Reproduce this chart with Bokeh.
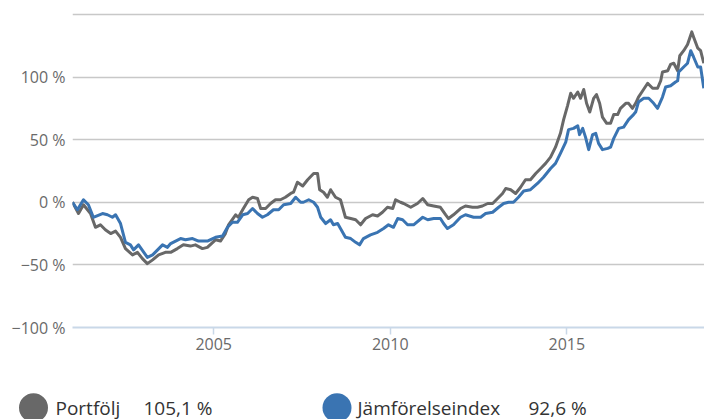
from bokeh.plotting import figure
from bokeh.layouts import column, row
from bokeh.models import Range1d, FixedTicker
from bokeh.core.properties import value
from bokeh.embed import file_html
from bokeh.resources import INLINE

# ---- data -------------------------------------------------------------
series_names = ["Portfölj", "Jämförelseindex"]
series_totals = ["105,1 %", "92,6 %"]

portfolj_years = [
    2001.00, 2001.17, 2001.31, 2001.51, 2001.65, 2001.79, 2001.93, 2002.08, 2002.22, 2002.36,
    2002.50, 2002.70, 2002.84, 2002.98, 2003.12, 2003.27, 2003.44, 2003.63, 2003.78, 2003.97,
    2004.14, 2004.34, 2004.48, 2004.68, 2004.82, 2005.05, 2005.19, 2005.33, 2005.42, 2005.62,
    2005.70, 2005.84, 2005.99, 2006.10, 2006.24, 2006.33, 2006.47, 2006.61, 2006.75, 2006.89,
    2007.03, 2007.18, 2007.26, 2007.37, 2007.52, 2007.66, 2007.83, 2007.94, 2008.00, 2008.11,
    2008.22, 2008.31, 2008.45, 2008.59, 2008.73, 2008.88, 2009.02, 2009.16, 2009.30, 2009.50,
    2009.64, 2009.78, 2009.92, 2010.07, 2010.15, 2010.29, 2010.38, 2010.58, 2010.77, 2010.92,
    2011.06, 2011.23, 2011.42, 2011.57, 2011.65, 2011.79, 2011.99, 2012.13, 2012.33, 2012.47,
    2012.61, 2012.76, 2012.90, 2013.04, 2013.18, 2013.27, 2013.41, 2013.55, 2013.69, 2013.83,
    2013.97, 2014.12, 2014.26, 2014.40, 2014.54, 2014.68, 2014.82, 2014.91, 2015.02, 2015.11,
    2015.19, 2015.31, 2015.39, 2015.48, 2015.56, 2015.65, 2015.76, 2015.84, 2015.93, 2016.01,
    2016.13, 2016.24, 2016.33, 2016.44, 2016.52, 2016.67, 2016.75, 2016.86, 2016.95, 2017.03,
    2017.15, 2017.29, 2017.43, 2017.57, 2017.66, 2017.71, 2017.86, 2017.94, 2018.03, 2018.14,
    2018.20, 2018.31, 2018.42, 2018.54, 2018.59, 2018.71, 2018.79, 2018.88,
]
portfolj = [
    0, -9, -2, -9, -20, -18, -22, -25, -23, -28,
    -37, -42, -40, -45, -49, -46, -42, -40, -40, -37,
    -34, -35, -34, -37, -36, -30, -31, -25, -18, -10,
    -12, -5, 2, 4, 3, -5, -5, -1, 2, 2,
    4, 7, 8, 16, 13, 18, 23, 23, 10, 8,
    4, 10, 4, 2, -12, -13, -14, -18, -13, -10,
    -11, -8, -4, -5, 2, 0, -1, -4, -1, 3,
    -2, -3, -4, -10, -13, -10, -5, -3, -4, -4,
    -3, -1, -1, 3, 7, 11, 10, 7, 12, 18,
    18, 23, 27, 31, 36, 44, 55, 66, 77, 87,
    83, 88, 83, 90, 79, 72, 83, 86, 79, 68,
    63, 63, 70, 70, 75, 79, 79, 75, 79, 84,
    89, 95, 91, 91, 97, 104, 105, 110, 111, 105,
    117, 121, 126, 136, 132, 123, 121, 111,
]

index_years = [
    2001.00, 2001.14, 2001.31, 2001.45, 2001.59, 2001.85, 2001.99, 2002.13, 2002.22, 2002.36,
    2002.50, 2002.64, 2002.73, 2002.87, 2003.12, 2003.27, 2003.55, 2003.69, 2003.78, 2004.06,
    2004.20, 2004.40, 2004.57, 2004.82, 2005.05, 2005.25, 2005.39, 2005.53, 2005.67, 2005.82,
    2005.96, 2006.10, 2006.24, 2006.38, 2006.52, 2006.69, 2006.84, 2006.98, 2007.18, 2007.32,
    2007.46, 2007.54, 2007.69, 2007.83, 2007.94, 2008.03, 2008.17, 2008.31, 2008.39, 2008.51,
    2008.59, 2008.73, 2008.88, 2009.02, 2009.13, 2009.24, 2009.44, 2009.64, 2009.81, 2009.95,
    2010.09, 2010.21, 2010.35, 2010.49, 2010.66, 2010.92, 2011.06, 2011.23, 2011.42, 2011.51,
    2011.62, 2011.79, 2011.99, 2012.13, 2012.36, 2012.56, 2012.70, 2012.90, 2013.07, 2013.21,
    2013.35, 2013.49, 2013.63, 2013.78, 2013.97, 2014.17, 2014.34, 2014.54, 2014.68, 2014.82,
    2014.97, 2015.05, 2015.19, 2015.31, 2015.36, 2015.45, 2015.53, 2015.62, 2015.73, 2015.82,
    2015.90, 2016.01, 2016.16, 2016.24, 2016.33, 2016.47, 2016.61, 2016.75, 2016.89, 2016.95,
    2017.03, 2017.18, 2017.32, 2017.46, 2017.57, 2017.71, 2017.80, 2017.94, 2018.08, 2018.14,
    2018.17, 2018.31, 2018.42, 2018.51, 2018.59, 2018.71, 2018.79, 2018.88,
]
index_vals = [
    0, -6, 2, -2, -12, -9, -10, -12, -10, -17,
    -32, -34, -38, -34, -44, -42, -34, -36, -33, -29,
    -30, -29, -31, -31, -28, -27, -20, -16, -16, -10,
    -9, -5, -9, -12, -10, -6, -6, -2, -1, 4,
    0, 0, 2, 0, -4, -12, -17, -14, -18, -17,
    -21, -28, -29, -32, -34, -29, -26, -24, -21, -18,
    -20, -13, -14, -18, -18, -12, -14, -13, -13, -17,
    -21, -18, -12, -10, -12, -12, -9, -8, -4, -1,
    0, 0, 4, 9, 10, 15, 20, 27, 31, 39,
    48, 58, 59, 61, 54, 59, 52, 42, 54, 55,
    47, 42, 43, 44, 51, 59, 60, 66, 70, 72,
    80, 83, 83, 79, 75, 84, 92, 93, 96, 97,
    104, 108, 111, 121, 116, 108, 108, 91,
]

x_ticks = [2005, 2010, 2015]
y_ticks = [-100, -50, 0, 50, 100, 150]
y_tick_labels = {-100: "\u2212100 %", -50: "\u221250 %", 0: "0 %", 50: "50 %", 100: "100 %", 150: ""}

GRAY = "#686868"
BLUE = "#3a74b2"
FONT = "Open Sans"

# ---- main chart ---------------------------------------------------------
p = figure(width=704, height=357, output_backend="svg", toolbar_location=None,
           x_range=Range1d(2001.0, 2018.9), y_range=Range1d(-100, 151.5),
           min_border_left=72, min_border_right=0, min_border_top=12, min_border_bottom=30)
p.outline_line_color = None
p.background_fill_color = "white"

p.line(portfolj_years, portfolj, line_color=GRAY, line_width=3, line_join="round")
p.line(index_years, index_vals, line_color=BLUE, line_width=3, line_join="round")

p.xgrid.visible = False
p.ygrid.ticker = FixedTicker(ticks=[t for t in y_ticks if t != -100])
p.ygrid.grid_line_color = "#c8c8c8"
p.ygrid.grid_line_width = 1.5

p.yaxis.ticker = FixedTicker(ticks=y_ticks)
p.yaxis.major_label_overrides = y_tick_labels
p.yaxis.axis_line_color = None
p.yaxis.major_tick_line_color = None
p.yaxis.major_tick_out = 0
p.yaxis.major_tick_in = 0
p.yaxis.minor_tick_line_color = None
p.yaxis.minor_tick_out = 0
p.yaxis.major_label_standoff = 7
p.yaxis.major_label_text_font = FONT
p.yaxis.major_label_text_font_size = "16px"
p.yaxis.major_label_text_color = "#6a6a6a"

p.xaxis.ticker = FixedTicker(ticks=x_ticks)
p.xaxis.major_label_overrides = {t: str(t) for t in x_ticks}
p.xaxis.axis_line_color = "#c9d8e8"
p.xaxis.axis_line_width = 2
p.xaxis.major_tick_line_color = "#c9d8e8"
p.xaxis.major_tick_line_width = 1.5
p.xaxis.major_tick_out = 7
p.xaxis.major_tick_in = 0
p.xaxis.minor_tick_line_color = None
p.xaxis.major_label_standoff = 3
p.xaxis.major_label_text_font = FONT
p.xaxis.major_label_text_font_size = "16px"
p.xaxis.major_label_text_color = "#6a6a6a"

# ---- legend strip ------------------------------------------------------
lg = figure(width=704, height=62, output_backend="svg", toolbar_location=None,
            x_range=Range1d(0, 704), y_range=Range1d(62, 0),
            min_border=0, min_border_left=0, min_border_right=0,
            min_border_top=0, min_border_bottom=0)
lg.axis.visible = False
lg.grid.visible = False
lg.outline_line_color = None

lg.scatter([33, 336.5], [50.2, 50.2], size=29, color=[GRAY, BLUE], line_color=None)
lg.text([55, 357], [50, 50], text=series_names, text_font=value(FONT),
        text_font_size="19px", text_baseline="alphabetic", text_color="#333333")
lg.text([143, 528], [50, 50], text=series_totals, text_font=value(FONT),
        text_font_size="19px", text_baseline="alphabetic", text_color="#333333")

layout = column(p, row(lg), spacing=0)
open("out.html", "w").write(file_html(layout, INLINE))
